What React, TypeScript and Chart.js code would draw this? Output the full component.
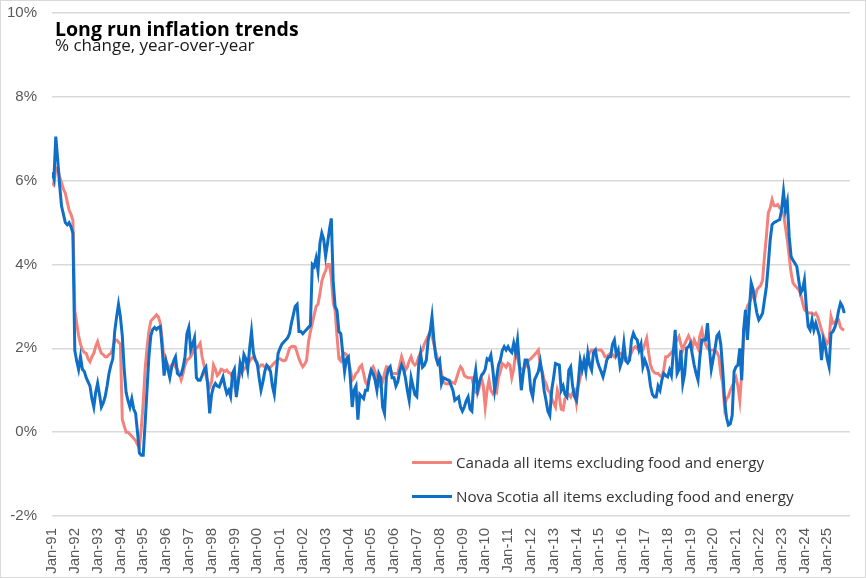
import React, { useEffect, useRef } from "react";
import { Chart, registerables } from "chart.js";

Chart.register(...registerables);

const TITLE = "Long run inflation trends";
const SUBTITLE = "% change, year-over-year";
const CANADA_LABEL = "Canada all items excluding food and energy";
const NS_LABEL = "Nova Scotia all items excluding food and energy";

// x tick labels, one per January (every 12 months from Jan-91)
const tickLabels = [
  "Jan-91", "Jan-92", "Jan-93", "Jan-94", "Jan-95", "Jan-96", "Jan-97", "Jan-98", "Jan-99", "Jan-00",
  "Jan-01", "Jan-02", "Jan-03", "Jan-04", "Jan-05", "Jan-06", "Jan-07", "Jan-08", "Jan-09", "Jan-10",
  "Jan-11", "Jan-12", "Jan-13", "Jan-14", "Jan-15", "Jan-16", "Jan-17", "Jan-18", "Jan-19", "Jan-20",
  "Jan-21", "Jan-22", "Jan-23", "Jan-24", "Jan-25",
];

const yTicks = [-2, 0, 2, 4, 6, 8, 10];

// Monthly values, Jan-1991 onward (one row per year)
const canada = [
  5.95, 5.9, 6.3, 6.3, 6.1, 5.95, 5.8, 5.7, 5.5, 5.3, 5.2, 5.05,
  2.9, 2.6, 2.3, 2.1, 1.96, 1.9, 1.88, 1.75, 1.68, 1.8, 1.88, 2.05,
  2.16, 2.0, 1.88, 1.85, 1.8, 1.8, 1.85, 1.88, 2.0, 2.2, 2.2, 2.15,
  2.1, 0.3, 0.15, 0.0, 0.0, -0.05, -0.1, -0.15, -0.2, -0.3, -0.35, 0.1,
  0.7, 1.5, 2.0, 2.4, 2.65, 2.7, 2.75, 2.8, 2.75, 2.6, 2.2, 1.7,
  1.7, 1.6, 1.5, 1.6, 1.65, 1.55, 1.5, 1.4, 1.25, 1.4, 1.6, 1.72,
  1.75, 1.8, 1.9, 2.0, 2.0, 2.05, 2.12, 1.8, 1.6, 1.35, 1.2, 1.08,
  1.2, 1.6, 1.5, 1.35, 1.4, 1.5, 1.48, 1.45, 1.48, 1.42, 1.4, 1.3,
  1.1, 0.95, 1.2, 1.4, 1.45, 1.5, 1.55, 1.6, 1.7, 1.75, 1.8, 1.75,
  1.6, 1.55, 1.6, 1.6, 1.55, 1.55, 1.5, 1.55, 1.6, 1.65, 1.7, 1.75,
  1.75, 1.72, 1.7, 1.72, 1.85, 2.0, 2.04, 2.05, 2.04, 1.9, 1.75, 1.64,
  1.56, 1.62, 1.72, 2.15, 2.4, 2.6, 2.8, 3.0, 3.05, 3.3, 3.6, 3.75,
  3.85, 4.0, 4.0, 3.7, 3.1, 2.9, 2.3, 1.75, 1.7, 1.85, 1.88, 1.85,
  1.7, 1.5, 1.24, 1.3, 1.4, 1.45, 1.55, 1.6, 1.4, 1.2, 1.12, 1.3,
  1.5, 1.56, 1.45, 1.3, 1.15, 1.08, 1.2, 1.4, 1.56, 1.55, 1.5, 1.4,
  1.4, 1.4, 1.4, 1.6, 1.8, 1.65, 1.48, 1.55, 1.7, 1.8, 1.65, 1.6,
  1.65, 1.8, 1.9, 1.96, 2.1, 2.2, 2.3, 2.4, 2.3, 2.1, 1.9, 1.75,
  1.64, 1.4, 1.2, 1.16, 1.15, 1.16, 1.2, 1.18, 1.16, 1.3, 1.45, 1.56,
  1.5, 1.35, 1.32, 1.3, 1.3, 1.3, 1.1, 0.95, 0.92, 1.1, 1.3, 1.1,
  0.6, 1.0, 1.24, 1.0, 0.92, 1.0, 0.95, 1.3, 1.45, 1.64, 1.6, 1.55,
  1.64, 1.6, 1.3, 1.5, 1.9, 1.8, 1.56, 1.5, 1.5, 1.55, 1.65, 1.72,
  1.75, 1.8, 1.85, 1.9, 1.96, 1.6, 1.45, 1.25, 1.16, 1.0, 0.95, 0.8,
  0.7, 0.6, 1.0, 0.85, 0.55, 0.53, 0.8, 0.85, 0.9, 0.84, 0.95, 1.0,
  0.7, 1.1, 1.3, 1.5, 1.56, 1.7, 1.8, 1.9, 1.96, 1.96, 1.95, 1.96,
  1.96, 1.96, 1.9, 1.8, 1.8, 1.85, 1.88, 1.85, 1.8, 1.85, 1.88, 1.88,
  1.85, 1.8, 1.72, 1.75, 1.8, 1.9, 2.0, 2.04, 2.0, 1.96, 1.96, 1.96,
  2.1, 2.24, 1.9, 1.6, 1.48, 1.42, 1.4, 1.4, 1.35, 1.32, 1.5, 1.8,
  1.8, 1.85, 1.9, 1.96, 2.1, 2.2, 2.28, 2.1, 1.96, 2.1, 2.2, 2.3,
  2.2, 2.0, 2.2, 2.1, 2.0, 2.3, 2.44, 2.2, 2.1, 2.0, 1.96, 1.96,
  1.96, 1.96, 1.9, 1.8, 1.4, 1.16, 0.6, 0.8, 0.85, 1.0, 1.1, 1.2,
  1.3, 1.1, 0.76, 1.4, 2.28, 2.8, 3.0, 3.08, 3.2, 3.3, 3.2, 3.4,
  3.45, 3.5, 3.63, 4.2, 4.67, 5.23, 5.35, 5.55, 5.4, 5.4, 5.43, 5.35,
  5.3, 5.23, 4.9, 4.59, 4.19, 3.8, 3.56, 3.5, 3.45, 3.4, 3.3, 3.1,
  2.92, 2.88, 2.84, 2.84, 2.84, 2.8, 2.84, 2.76, 2.6, 2.44, 2.3, 2.2,
  2.12, 2.2, 2.76, 2.6, 2.62, 2.68, 2.68, 2.5, 2.45, 2.44,
];

const novaScotia = [
  6.2, 6.05, 7.05, 6.5, 5.9, 5.4, 5.2, 5.0, 4.95, 5.0, 4.9, 4.75,
  1.95, 1.7, 1.5, 1.8, 1.5, 1.45, 1.3, 1.2, 1.1, 0.8, 0.6, 0.95,
  1.17, 0.9, 0.6, 0.7, 0.85, 1.1, 1.4, 1.6, 1.75, 2.4, 2.75, 3.05,
  2.75, 2.3, 1.5, 0.95, 0.75, 0.6, 0.8, 0.55, 0.45, 0.0, -0.5, -0.55,
  -0.55, 0.2, 1.0, 1.8, 2.3, 2.45, 2.5, 2.45, 2.5, 2.52, 2.0, 1.35,
  1.7, 1.5, 1.3, 1.55, 1.7, 1.8, 1.4, 1.36, 1.38, 1.55, 1.8, 2.35,
  2.5, 1.96, 2.1, 2.25, 1.3, 1.24, 1.24, 1.35, 1.48, 1.55, 1.1, 0.45,
  0.9, 1.08, 1.16, 1.1, 1.08, 1.2, 1.32, 1.1, 0.92, 1.0, 0.85, 1.4,
  1.5, 0.84, 1.2, 1.64, 1.45, 1.85, 1.75, 1.5, 2.0, 2.4, 1.9, 1.72,
  1.65, 1.3, 1.0, 1.2, 1.45, 1.6, 1.55, 1.45, 1.1, 0.9, 1.4, 1.88,
  2.0, 2.1, 2.15, 2.2, 2.25, 2.35, 2.6, 2.8, 3.0, 3.05, 2.4, 2.4,
  2.35, 2.4, 2.45, 2.5, 2.55, 4.0, 3.95, 4.15, 3.85, 4.5, 4.75, 4.6,
  4.2, 4.5, 4.83, 5.1, 3.6, 3.0, 2.9, 2.4, 2.35, 1.9, 1.45, 1.75,
  1.8, 1.3, 0.6, 1.0, 1.1, 0.3, 0.9, 0.85, 0.8, 1.0, 1.0, 1.3,
  1.48, 1.4, 1.25, 1.0, 1.4, 1.3, 0.6, 0.45, 1.3, 1.5, 1.56, 1.3,
  1.3, 1.1, 1.2, 1.45, 1.6, 1.5, 1.3, 1.0, 0.76, 1.3, 1.1, 0.9,
  0.85, 1.6, 1.88, 1.55, 1.6, 1.72, 2.2, 2.4, 2.76, 2.2, 1.8, 1.64,
  1.72, 1.16, 1.3, 1.28, 1.25, 1.24, 1.12, 1.0, 0.76, 0.8, 0.84, 0.6,
  0.5, 0.6, 0.75, 0.84, 0.55, 0.5, 1.2, 1.48, 1.0, 1.2, 1.35, 1.4,
  1.5, 1.75, 1.72, 1.84, 1.5, 1.0, 1.3, 1.6, 1.72, 1.95, 2.04, 1.96,
  2.04, 1.95, 1.9, 2.12, 1.9, 2.2, 1.6, 1.0, 1.4, 1.72, 1.72, 1.5,
  1.0, 0.84, 1.25, 1.35, 1.45, 1.68, 1.4, 1.0, 0.76, 0.5, 0.4, 1.0,
  1.3, 1.64, 1.62, 1.6, 1.0, 1.1, 0.9, 0.84, 1.48, 1.56, 1.1, 0.85,
  0.76, 1.2, 1.72, 1.5, 1.72, 1.45, 1.88, 1.6, 1.48, 1.9, 1.96, 1.7,
  1.56, 1.45, 1.32, 1.5, 1.72, 1.8, 1.8, 2.1, 2.2, 1.85, 1.96, 1.56,
  1.7, 2.12, 1.7, 1.65, 1.72, 2.2, 2.36, 2.25, 2.2, 1.96, 2.1, 1.56,
  1.72, 1.6, 1.45, 1.1, 0.9, 0.84, 0.84, 1.1, 1.0, 1.25, 1.4, 1.35,
  1.32, 1.48, 1.35, 1.9, 2.44, 1.4, 1.5, 1.96, 1.16, 1.4, 2.0, 2.04,
  2.12, 1.85, 1.6, 1.4, 1.24, 1.8, 2.2, 2.2, 2.2, 2.6, 2.0, 1.5,
  1.75, 2.0, 2.3, 2.36, 2.1, 1.5, 0.76, 0.35, 0.17, 0.2, 0.4, 1.45,
  1.56, 1.6, 2.0, 1.24, 2.44, 2.92, 2.2, 2.9, 3.56, 3.4, 3.1, 2.84,
  2.68, 2.75, 2.84, 3.16, 3.47, 4.0, 4.59, 4.95, 5.0, 5.02, 5.05, 5.07,
  5.3, 5.74, 5.3, 5.5, 4.67, 4.19, 4.1, 4.03, 3.95, 3.63, 3.32, 3.4,
  3.63, 3.0, 2.52, 2.44, 2.68, 2.44, 2.6, 2.44, 2.28, 1.72, 2.2, 2.04,
  1.75, 1.56, 2.36, 2.4, 2.5, 2.65, 2.9, 3.08, 3.0, 2.84,
];

const CANADA_COLOR = "#F4827C";
const NS_COLOR = "#0F6FC6";

const overlayPlugin = {
  id: "overlayText",
  afterDraw(chart: any) {
    const c = chart.ctx as CanvasRenderingContext2D;
    c.save();
    c.textBaseline = "alphabetic";
    c.textAlign = "left";
    c.fillStyle = "#000000";
    c.font = "bold 19.5px 'Open Sans'";
    c.fillText(TITLE, 55, 36);
    c.fillStyle = "#1a1a1a";
    c.font = "17px 'Open Sans'";
    c.fillText(SUBTITLE, 55, 50.5);

    const items = [
      { label: CANADA_LABEL, color: CANADA_COLOR, y: 462.5 },
      { label: NS_LABEL, color: NS_COLOR, y: 496.5 },
    ];
    items.forEach((it) => {
      c.strokeStyle = it.color;
      c.lineWidth = 3;
      c.beginPath();
      c.moveTo(412, it.y);
      c.lineTo(452, it.y);
      c.stroke();
      c.fillStyle = "#333333";
      c.font = "15.2px 'Open Sans'";
      c.fillText(it.label, 456, it.y + 5.5);
    });
    c.restore();
  },
};

export default function App() {
  const ref = useRef<HTMLCanvasElement>(null);

  useEffect(() => {
    document.body.style.margin = "0";
    const canvas = ref.current;
    if (!canvas) return;
    const toPoints = (arr: number[]) => arr.map((v, i) => ({ x: i, y: v }));

    const chart = new Chart(canvas, {
      type: "line",
      data: {
        datasets: [
          {
            label: NS_LABEL,
            data: toPoints(novaScotia),
            borderColor: NS_COLOR,
            backgroundColor: NS_COLOR,
            borderWidth: 3,
            pointRadius: 0,
            tension: 0,
          },
          {
            label: CANADA_LABEL,
            data: toPoints(canada),
            borderColor: CANADA_COLOR,
            backgroundColor: CANADA_COLOR,
            borderWidth: 3,
            pointRadius: 0,
            tension: 0,
          },
        ],
      },
      options: {
        animation: false,
        responsive: false,
        maintainAspectRatio: false,
        layout: { padding: { left: 0, right: 16, top: 13, bottom: 0 } },
        plugins: {
          legend: { display: false },
          tooltip: { enabled: false },
          title: { display: false },
        },
        scales: {
          x: {
            type: "linear",
            min: 0,
            max: 420,
            grid: { display: false },
            border: { display: false },
            afterFit: (s: any) => {
              s.height = 62;
              s.paddingLeft = 0;
              s.paddingRight = 0;
            },
            ticks: {
              stepSize: 12,
              autoSkip: false,
              includeBounds: false,
              maxRotation: 90,
              minRotation: 90,
              padding: 4,
              color: "#595959",
              font: { family: "Liberation Sans", size: 15 },
              callback: (v: any) => {
                const n = Number(v);
                if (n % 12 !== 0) return "";
                return tickLabels[n / 12] ?? "";
              },
            },
          },
          y: {
            min: -2,
            max: 10,
            afterBuildTicks: (s: any) => {
              s.ticks = yTicks.map((v) => ({ value: v }));
            },
            grid: { color: "#d9d9d9", lineWidth: 1.5, drawTicks: false },
            border: { display: false },
            afterFit: (s: any) => {
              s.width = 52;
              s.paddingTop = 0;
              s.paddingBottom = 0;
            },
            ticks: {
              padding: 15,
              color: "#595959",
              font: { family: "Liberation Sans", size: 15 },
              callback: (v: any) => `${v}%`,
            },
          },
        },
      },
      plugins: [overlayPlugin],
    });
    return () => chart.destroy();
  }, []);

  return (
    <div style={{ position: "relative", width: 866, height: 578, background: "#ffffff" }}>
      <canvas ref={ref} width={866} height={578} style={{ position: "absolute", left: 0, top: 0, width: 866, height: 578 }} />
      <div
        style={{
          position: "absolute",
          left: 0,
          top: 0,
          width: 866,
          height: 578,
          boxSizing: "border-box",
          border: "1px solid #d9d9d9",
          pointerEvents: "none",
        }}
      />
    </div>
  );
}
